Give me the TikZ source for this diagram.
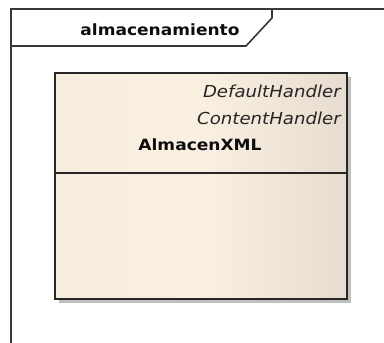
\documentclass[tikz,border=0pt]{standalone}
\usepackage{fontspec}
\newfontfamily\umlfont[FakeStretch=1.1]{DejaVu Sans}
\begin{document}
\begin{tikzpicture}[x=1pt,y=-1pt,
  frameline/.style={draw=black!78,line width=1.6pt},
  classbox/.style={rectangle,draw=black!85,line width=1.5pt,inner sep=0pt,
    left color=cream1,right color=cream3,middle color=cream2},
  shadowbox/.style={rectangle,fill=black!25,draw=none,inner sep=0pt},
  stereo/.style={font=\umlfont\fontsize{16.5}{18}\selectfont\itshape,text=black!85,inner sep=0pt},
  boldname/.style={font=\umlfont\fontsize{15.5}{18}\selectfont\bfseries,text=black!95,inner sep=0pt}]
\definecolor{cream1}{HTML}{F7EDDF}
\definecolor{cream2}{HTML}{FAF0E2}
\definecolor{cream3}{HTML}{E6DCCF}
\useasboundingbox[fill=white] (0,0) rectangle (384,343);
% package frame
\draw[frameline] (11,343) -- (11,9) -- (384,9);
\draw[frameline] (11,46) -- (246,46) -- (272,18) -- (272,9);
\node[boldname,anchor=base] (title) at (160,35) {almacenamiento};
% class
\node[shadowbox,minimum width=292pt,minimum height=226pt] (shadow) at (205,190) {};
\node[classbox,minimum width=292pt,minimum height=226pt] (cls) at (201,186) {};
\draw[draw=black!85,line width=1.4pt] (cls.west |- 0,173) coordinate (dl) -- (cls.east |- 0,173) coordinate (dr);
\node[stereo,anchor=base east] (s1) at (341,97) {DefaultHandler};
\node[stereo,anchor=base east] (s2) at (341,124) {ContentHandler};
\node[boldname,anchor=base] (name) at (200,150) {AlmacenXML};
\end{tikzpicture}
\end{document}
